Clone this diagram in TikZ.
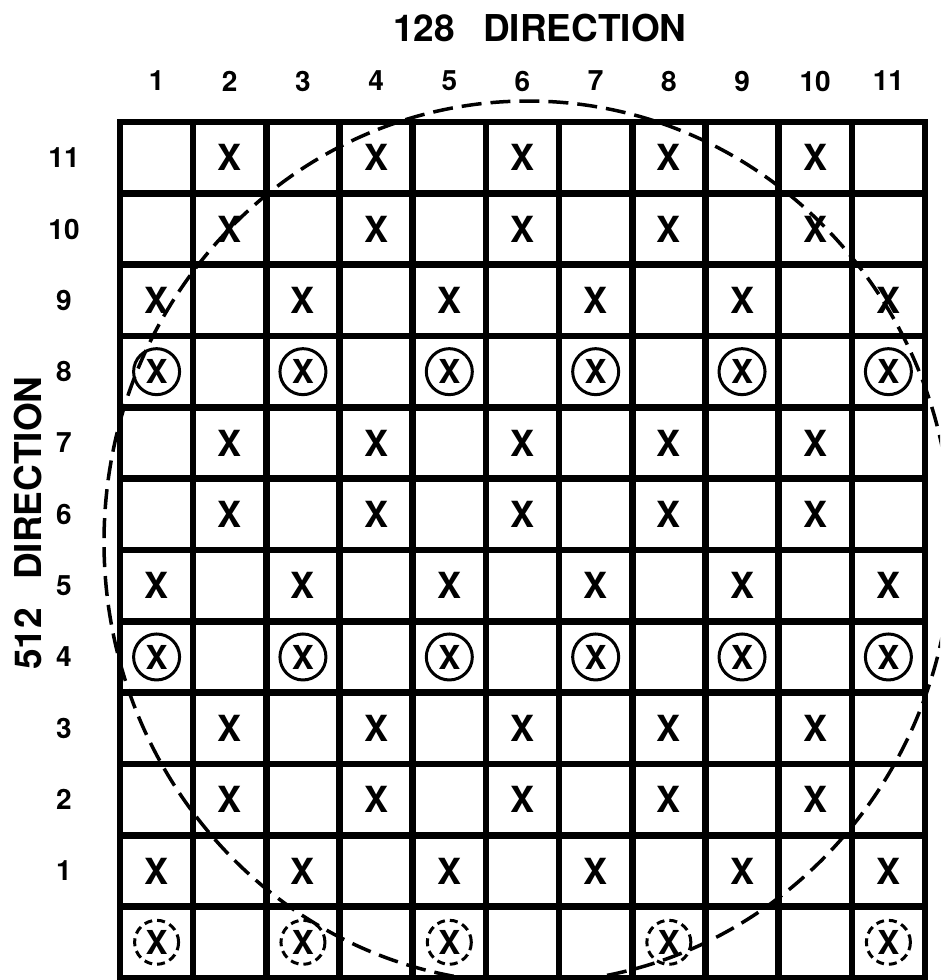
\documentclass[tikz,border=0pt]{standalone}
\usepackage{fontspec}
\setmainfont{TeX Gyre Heros}
\begin{document}
\begin{tikzpicture}[x=1pt,y=-1pt,
  gridline/.style={line width=6.5pt, line cap=rect},
  xmark/.style={font=\fontsize{36}{36}\bfseries\selectfont, inner sep=0pt},
  cxmark/.style={xmark, font=\fontsize{33}{33}\bfseries\selectfont},
  ring/.style={circle, draw, line width=3pt, minimum size=46pt, inner sep=0pt},
  dring/.style={circle, draw, line width=3pt, minimum size=44pt, inner sep=0pt, dash pattern=on 8pt off 5pt},
  numlabel/.style={font=\fontsize{28}{28}\bfseries\selectfont, inner sep=0pt},
  titlelabel/.style={font=\fontsize{37}{37}\bfseries\selectfont, inner sep=0pt},
  boundary/.style={line width=3.5pt, dash pattern=on 20pt off 9pt}]
\fill[white] (0,0) rectangle (940,980);
\useasboundingbox (0,0) rectangle (940,980);
\clip (0,0) rectangle (940,980);
\def\gl{120}\def\gr{925}\def\gt{122}\def\gb{978}
\def\cw{73.18}\def\rh{71.33}
% grid
\foreach \i in {0,...,12}{
  \draw[gridline] (\gl,{\gt+\i*\rh}) -- (\gr,{\gt+\i*\rh});
}
\foreach \j in {0,...,11}{
  \draw[gridline] ({\gl+\j*\cw},\gt) -- ({\gl+\j*\cw},\gb);
}
% titles
\node[titlelabel] (toptitle) at (540,28) {128\hspace{28pt}DIRECTION};
\node[titlelabel, rotate=90] (sidetitle) at (28,523) {512\hspace{28pt}DIRECTION};
% column numbers
\foreach \c in {1,...,11}{
  \node[numlabel] (col\c) at ({\gl+(\c-0.5)*\cw},81) {\c};
}
% row numbers
\foreach \i in {0,...,10}{
  \pgfmathtruncatemacro{\lab}{11-\i}
  \node[numlabel] (row\lab) at (64,{\gt+(\i+0.5)*\rh}) {\lab};
}
% plain X rows, even columns
\foreach \i in {0,1,4,5,8,9}{
  \foreach \c in {2,4,6,8,10}{
    \node[xmark] (x-\i-\c) at ({\gl+(\c-0.5)*\cw},{\gt+(\i+0.5)*\rh}) {X};
  }
}
% plain X rows, odd columns
\foreach \i in {2,6,10}{
  \foreach \c in {1,3,5,7,9,11}{
    \node[xmark] (x-\i-\c) at ({\gl+(\c-0.5)*\cw},{\gt+(\i+0.5)*\rh}) {X};
  }
}
% circled X rows
\foreach \i in {3,7}{
  \foreach \c in {1,3,5,7,9,11}{
    \node[ring] (r-\i-\c) at ({\gl+(\c-0.5)*\cw},{\gt+(\i+0.5)*\rh}) {};
    \node[cxmark] (x-\i-\c) at (r-\i-\c) {X};
  }
}
% bottom row, dashed circles
\foreach \c in {1,3,5,8,11}{
  \node[dring] (r-11-\c) at ({\gl+(\c-0.5)*\cw},{\gt+11.5*\rh}) {};
  \node[cxmark] (x-11-\c) at (r-11-\c) {X};
}
% dashed boundary
\draw[boundary] (528,542) ellipse [x radius=424, y radius=441];
\end{tikzpicture}
\end{document}
